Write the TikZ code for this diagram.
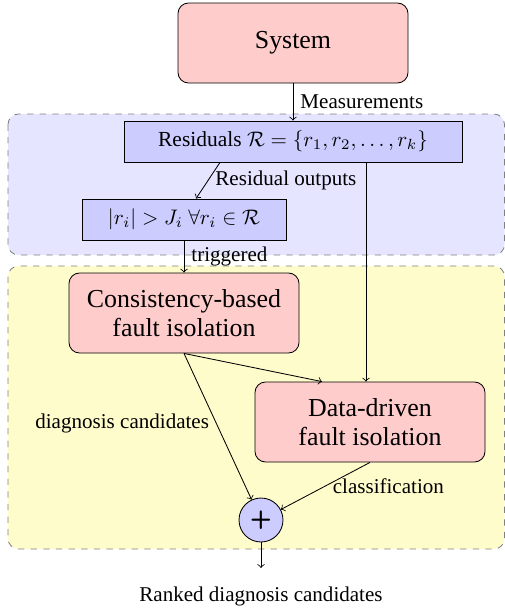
\documentclass[tikz,border=0pt]{standalone}
\usepackage{fontspec}
\setmainfont{Liberation Serif}
\usetikzlibrary{calc}
\newcommand{\pxu}{0.475pt}
\begin{document}
\begin{tikzpicture}[x=0.475pt,y=-0.475pt,
  region/.style={draw=gray,dashed,rounded corners=5pt},
  bigbox/.style={draw=black,fill=red!20,rounded corners=5pt,align=center,font=\fontsize{12.3}{14}\selectfont,minimum width={230*\pxu},minimum height={80*\pxu}},
  resbox/.style={draw=black,fill=blue!20,font=\fontsize{10.2}{12}\selectfont,minimum height={41*\pxu}},
  lbl/.style={font=\fontsize{10}{12}\selectfont},
  arr/.style={->}]
\useasboundingbox (0,0) rectangle (505,612);
\draw[region,fill=blue!10] (8,114) rectangle (504.5,255);
\draw[region,fill=yellow!20] (8,266) rectangle (504.5,549);
\node[bigbox] (sys) at (293,43) {System};
\node[resbox,minimum width={338*\pxu}] (res) at (293,141.5) {Residuals $\mathcal{R}=\{r_1,r_2,\dots,r_k\}$};
\node[resbox,minimum width={204*\pxu}] (thr) at (184,219.5) {$|r_i|>J_i\ \forall r_i\in\mathcal{R}$};
\node[bigbox] (cons) at (184,313) {Consistency-based\\fault isolation};
\node[bigbox] (dd) at (370,422) {Data-driven\\fault isolation};
\node[draw=black,fill=blue!20,circle,minimum size={44*\pxu},inner sep=0pt,font=\large\sffamily\bfseries] (plus) at (261,520) {+};
\node[lbl] (out) at (261,596) {Ranked diagnosis candidates};
\draw[arr] (sys.south) -- node[midway,right,lbl] {Measurements} (res.north);
\draw[arr] ([xshift=-73*\pxu]res.south) -- node[midway,right,lbl] {Residual outputs} ([xshift=12*\pxu]thr.north);
\draw[arr] (thr.south) -- node[midway,right,lbl] {triggered} (cons.north);
\draw[arr] ([xshift=73*\pxu]res.south) -- ([xshift=-4*\pxu]dd.north);
\draw[arr] (cons.south) -- ([xshift=-48*\pxu]dd.north);
\draw[arr] (cons.south) -- node[pos=0.48,left,lbl] {diagnosis candidates} (plus);
\draw[arr] (dd.south) -- node[midway,right,lbl] {classification} (plus);
\draw[arr] (plus.south) -- ([yshift=11*\pxu]out.north);
\end{tikzpicture}
\end{document}
